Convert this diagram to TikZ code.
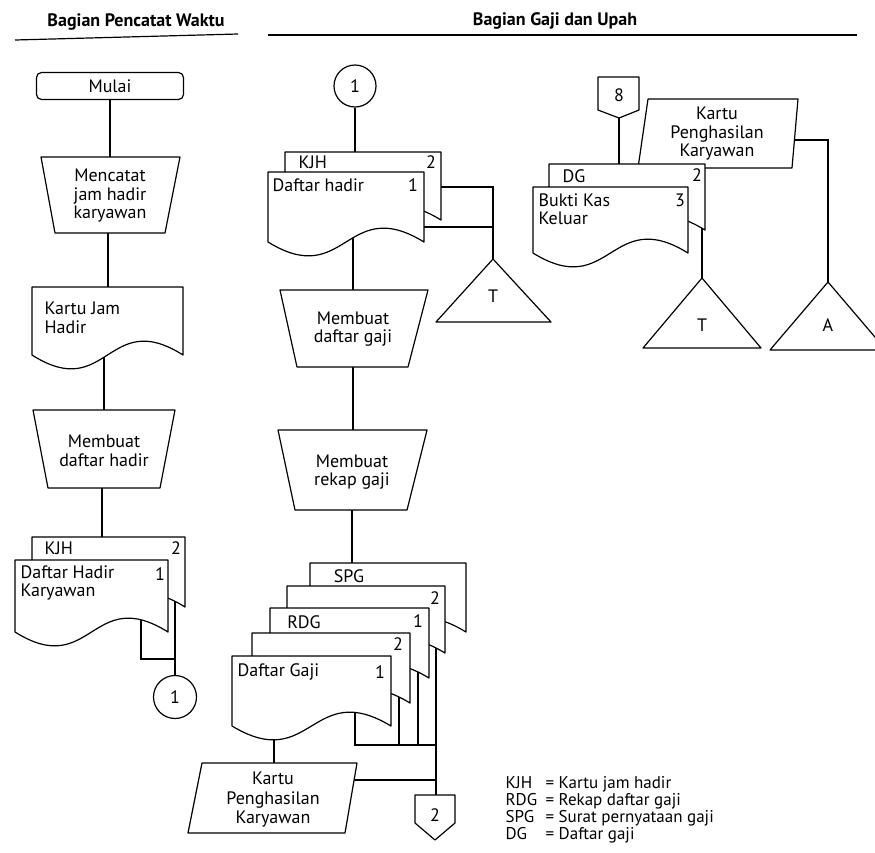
\documentclass[tikz,border=0pt]{standalone}
\usepackage{fontspec}
\setmainfont{PT Sans}
\usetikzlibrary{calc}
\pgfdeclarelayer{bg}
\pgfsetlayers{bg,main}
% document shape: x, y, width, height (to right bottom corner)
\newcommand\docshp[4]{%
  \draw[fill=white] (#1,#2) -- ({#1+#3},#2) -- ({#1+#3},{#2+#4})
    .. controls ({#1+0.5*#3},{#2+#4-48}) and ({#1+0.5*#3},{#2+#4+48}) .. (#1,{#2+#4}) -- cycle;}
\begin{document}
\begin{tikzpicture}[x=1pt,y=-1pt,line width=1.2pt,line join=round,
  lbl/.style={font=\fontsize{18}{18.5}\selectfont,inner sep=0pt,align=center},
  lbll/.style={lbl,align=left,anchor=west},
  num/.style={font=\fontsize{18}{18.5}\selectfont,inner sep=0pt},
  hdr/.style={font=\bfseries\fontsize{18}{18}\selectfont,inner sep=0pt},
  leg/.style={font=\fontsize{17}{15.8}\selectfont,inner sep=0pt,anchor=north west},
  conn/.style={line width=1.2pt}]
\useasboundingbox (0,0) rectangle (875,852);

% headers
\node[hdr] (h1) at (136,22) {Bagian Pencatat Waktu};
\node[hdr] (h2) at (555,21) {Bagian Gaji dan Upah};
\draw (15,40) -- (238,34);
\draw (268,35) -- (857,35);

% ---------------- left column ----------------
\node[draw,rounded corners=5pt,minimum width=147pt,minimum height=27pt,lbl,fill=white] (mulai) at (110,86) {Mulai};

\draw[fill=white] (41,157) -- (180,157) -- (165,233) -- (55,233) -- cycle;
\node[lbl] (t1) at (110,196) {Mencatat\\jam hadir\\karyawan};
\coordinate (t1top) at (110,157);
\coordinate (t1bot) at (108,233);

\docshp{32}{287}{151}{68}
\node[lbll] (kjhcard) at (44,318) {Kartu Jam\\Hadir};
\coordinate (kjctop) at (108,287);
\coordinate (kjcin) at (104,340);

\draw[fill=white] (33,410) -- (175,410) -- (160,488) -- (48,488) -- cycle;
\node[lbl] (t2) at (104,451) {Membuat\\daftar hadir};
\coordinate (t2top) at (104,410);
\coordinate (t2bot) at (102,488);

\docshp{32}{537}{153}{70}
\node[lbll] (lkjh) at (44,548) {KJH};
\node[num] (lkjh2) at (176,548) {2};
\docshp{15}{560}{153}{72}
\node[lbll] (ldh) at (20,583) {Daftar Hadir\\Karyawan};
\node[num] (ldh1) at (160,574) {1};
\coordinate (lbacktop) at (102,537);
\coordinate (lbackin) at (175,590);
\coordinate (lfrontin) at (141,615);
\coordinate (ljoin) at (175,659);

\node[draw,circle,minimum size=43pt,num,fill=white] (c1a) at (175,697) {1};

% ---------------- middle column ----------------
\node[draw,circle,minimum size=42pt,num,fill=white] (c1b) at (355,86) {1};

\docshp{285}{152}{156}{68}
\node[lbll] (mkjh) at (298,162) {KJH};
\node[num] (mkjh2) at (431,162) {2};
\docshp{268}{172}{156}{70}
\node[lbll] (mdh) at (272,185) {Daftar hadir};
\node[num] (mdh1) at (413,185) {1};
\coordinate (mbacktop) at (355,152);
\coordinate (mbackr) at (441,187);
\coordinate (mfrontr) at (424,227);
\coordinate (mfrontin) at (353,230);
\coordinate (mjtop) at (493,187);
\coordinate (mjbot) at (493,227);

\draw[fill=white] (493,259) -- (551,322) -- (436,322) -- cycle;
\coordinate (tri1) at (493,259);
\node[num] (tri1l) at (493,296) {T};

\draw[fill=white] (280,290) -- (428,290) -- (408,367) -- (297,367) -- cycle;
\node[lbl] (t3) at (353,329) {Membuat\\daftar gaji};
\coordinate (t3top) at (353,290);
\coordinate (t3bot) at (353,367);

\draw[fill=white] (278,430) -- (427,430) -- (407,510) -- (295,510) -- cycle;
\node[lbl] (t4) at (352,472) {Membuat\\rekap gaji};
\coordinate (t4top) at (353,430);
\coordinate (t4bot) at (352,510);

\docshp{310}{563}{156}{69}
\node[num] (spg) at (349,576) {SPG};
\docshp{287}{586}{158}{67}
\node[num] (d2a) at (435,598) {2};
\docshp{270}{608}{159}{70}
\node[num] (rdg) at (304,622) {RDG};
\node[num] (rdg1) at (418,621) {1};
\docshp{252}{633}{158}{70}
\node[num] (d2b) at (398,644) {2};
\docshp{232}{656}{159}{70}
\node[lbll] (dg) at (237,672) {Daftar Gaji};
\node[num] (dg1) at (380,672) {1};
\coordinate (spgtop) at (352,563);
\coordinate (dgin) at (355,700);
\coordinate (d2bin) at (399,690);
\coordinate (rdgin) at (418,665);
\coordinate (d2ain) at (436,640);
\coordinate (bj1) at (355,745);
\coordinate (bj2) at (399,745);
\coordinate (bj3) at (418,745);
\coordinate (bj4) at (436,745);
\coordinate (bj5) at (436,780);
\coordinate (dgwave) at (274,730);

\draw[fill=white] (202,763) -- (357,763) -- (345,833) -- (188,833) -- cycle;
\node[lbl,font=\fontsize{18}{19.5}\selectfont] (kpk1) at (273,800) {Kartu\\Penghasilan\\Karyawan};
\coordinate (kpk1top) at (274,763);
\coordinate (kpk1in) at (348,780);

\draw[fill=white] (415,795) -- (455,795) -- (455,823) -- (435,840) -- (415,823) -- cycle;
\node[num] (off2) at (435,815) {2};
\coordinate (off2top) at (436,795);

% ---------------- right column ----------------
\draw[fill=white] (598,77) -- (639,77) -- (639,110) -- (619,118) -- (598,110) -- cycle;
\node[num] (off8) at (619,95) {8};
\coordinate (off8bot) at (619,118);

\draw[fill=white] (648,99) -- (798,99) -- (792,168) -- (638,168) -- cycle;
\node[lbl] (kpk2) at (717,134) {Kartu\\Penghasilan\\Karyawan};
\coordinate (kpk2in) at (785,140);
\coordinate (kpk2j) at (828,140);

\docshp{549}{164}{156}{66}
\node[lbll] (rdg2) at (562,176) {DG};
\node[num] (rdg22) at (697,175) {2};
\docshp{533}{187}{155}{66}
\node[lbll] (bkk) at (538,209) {Bukti Kas\\Keluar};
\node[num] (bkk3) at (680,200) {3};
\coordinate (rdgtop) at (619,164);
\coordinate (rdgbin) at (702,222);

\draw[fill=white] (702,278) -- (761,348) -- (643,348) -- cycle;
\coordinate (tri2) at (702,278);
\node[num] (tri2l) at (702,325) {T};

\draw[fill=white] (828,282) -- (886,350) -- (770,350) -- cycle;
\coordinate (tri3) at (828,282);
\node[num] (tri3l) at (828,325) {A};

% legend
\node[leg] (legend) at (505,776) {%
  \begin{tabular}{@{}p{40pt}@{}l@{}}
  KJH & = Kartu jam hadir\\
  RDG & = Rekap daftar gaji\\
  SPG & = Surat pernyataan gaji\\
  DG  & = Daftar gaji
  \end{tabular}};

% ---------------- connectors (behind shapes) ----------------
\begin{pgfonlayer}{bg}
\draw[conn] (mulai.south) -- (t1top);
\draw[conn] (t1bot) -- (kjctop);
\draw[conn] (kjcin) -- (t2top);
\draw[conn] (t2bot) -- (lbacktop);
\draw[conn] (lbackin) -- (c1a.north);
\draw[conn] (lfrontin) |- (ljoin);

\draw[conn] (c1b.south) -- (mbacktop);
\draw[conn] (mbackr) -- (mjtop) -- (tri1);
\draw[conn] (mfrontr) -- (mjbot);
\draw[conn] (mfrontin) -- (t3top);
\draw[conn] (t3bot) -- (t4top);
\draw[conn] (t4bot) -- (spgtop);
\draw[conn] (dgin) -- (bj1) -- (bj4);
\draw[conn] (d2bin) -- (bj2);
\draw[conn] (rdgin) -- (bj3);
\draw[conn] (d2ain) -- (off2top);
\draw[conn] (dgwave) -- (kpk1top);
\draw[conn] (kpk1in) -- (bj5);

\draw[conn] (off8bot) -- (rdgtop);
\draw[conn] (kpk2in) -- (kpk2j) -- (tri3);
\draw[conn] (rdgbin) -- (tri2);
\end{pgfonlayer}
\end{tikzpicture}
\end{document}
